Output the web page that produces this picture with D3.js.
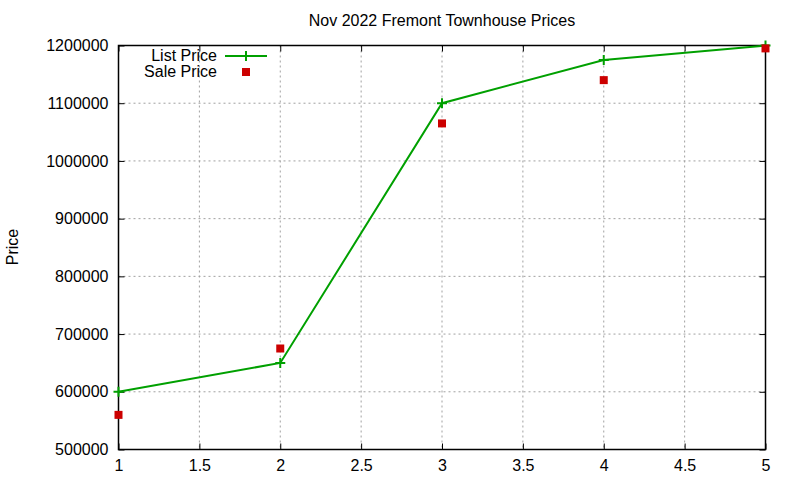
<!DOCTYPE html>
<html>
<head>
<meta charset="utf-8">
<script src="https://cdn.jsdelivr.net/npm/d3@7"></script>
<style>
  body { margin: 0; background: #fff; }
  svg { font-family: "Liberation Sans", Arial, sans-serif; font-size: 16px; }
  .grid line { stroke: #a0a0a0; stroke-width: 1; stroke-dasharray: 2,3; }
</style>
</head>
<body>
<svg width="800" height="480"></svg>
<script>
// chart data
const xValues = [1, 2, 3, 4, 5];
const listPrice = [600000, 650000, 1100000, 1175000, 1200000];
const salePrice = [560000, 675000, 1065000, 1140000, 1195000];
const xTicks = [1, 1.5, 2, 2.5, 3, 3.5, 4, 4.5, 5];
const yTicks = [500000, 600000, 700000, 800000, 900000, 1000000, 1100000, 1200000];

const svg = d3.select('svg');
const plotLeft = 118.5, plotRight = 765.5, plotTop = 45.5, plotBottom = 449.5;

const x = d3.scaleLinear().domain([1, 5]).range([plotLeft, plotRight]);
const y = d3.scaleLinear().domain([500000, 1200000]).range([plotBottom, plotTop]);

const green = '#00a000';
const red = '#cc0000';

// grid lines
const grid = svg.append('g').attr('class', 'grid');
grid.selectAll('.gx')
  .data(xTicks.slice(1, -1))
  .enter().append('line')
  .attr('x1', d => x(d)).attr('x2', d => x(d))
  .attr('y1', plotTop).attr('y2', plotBottom);
grid.selectAll('.gy')
  .data(yTicks.slice(1, -1))
  .enter().append('line')
  .attr('x1', plotLeft).attr('x2', plotRight)
  .attr('y1', d => y(d)).attr('y2', d => y(d));

// axes with inward ticks (mirrored on top/right)
const tickLen = 6;
svg.append('g')
  .attr('transform', `translate(0,${plotBottom})`)
  .call(d3.axisBottom(x).tickValues(xTicks).tickSizeInner(-tickLen).tickSizeOuter(0).tickPadding(10).tickFormat(d3.format('')))
  .call(g => g.select('.domain').remove())
  .call(g => g.selectAll('text').attr('font-size', 16).attr('fill', '#000'));
svg.append('g')
  .attr('transform', `translate(0,${plotTop})`)
  .call(d3.axisTop(x).tickValues(xTicks).tickSizeInner(-tickLen).tickSizeOuter(0).tickFormat(''))
  .call(g => g.select('.domain').remove());
svg.append('g')
  .attr('transform', `translate(${plotLeft},0)`)
  .call(d3.axisLeft(y).tickValues(yTicks).tickSizeInner(-tickLen).tickSizeOuter(0).tickPadding(10).tickFormat(d3.format('d')))
  .call(g => g.select('.domain').remove())
  .call(g => g.selectAll('text').attr('font-size', 16).attr('fill', '#000'));
svg.append('g')
  .attr('transform', `translate(${plotRight},0)`)
  .call(d3.axisRight(y).tickValues(yTicks).tickSizeInner(-tickLen).tickSizeOuter(0).tickFormat(''))
  .call(g => g.select('.domain').remove());
svg.selectAll('.tick text').attr('font-family', '"Liberation Sans", Arial, sans-serif');

// border
svg.append('rect')
  .attr('x', plotLeft).attr('y', plotTop)
  .attr('width', plotRight - plotLeft).attr('height', plotBottom - plotTop)
  .attr('fill', 'none').attr('stroke', '#000').attr('stroke-width', 1.5);

// list price line
const line = d3.line().x((d, i) => x(xValues[i])).y(d => y(d));
svg.append('path')
  .datum(listPrice)
  .attr('d', line)
  .attr('fill', 'none')
  .attr('stroke', green)
  .attr('stroke-width', 2);

const plusSize = 5;
svg.append('g').selectAll('path')
  .data(listPrice)
  .enter().append('path')
  .attr('d', (d, i) => {
    const cx = x(xValues[i]), cy = y(d);
    return `M${cx - plusSize},${cy}H${cx + plusSize}M${cx},${cy - plusSize}V${cy + plusSize}`;
  })
  .attr('stroke', green)
  .attr('stroke-width', 2);

// sale price points
const sq = 8;
svg.append('g').selectAll('rect')
  .data(salePrice)
  .enter().append('rect')
  .attr('x', (d, i) => x(xValues[i]) - sq / 2)
  .attr('y', d => y(d) - sq / 2)
  .attr('width', sq).attr('height', sq)
  .attr('fill', red);

// title and axis label
svg.append('text')
  .attr('x', (plotLeft + plotRight) / 2).attr('y', 26)
  .attr('text-anchor', 'middle')
  .text('Nov 2022 Fremont Townhouse Prices');

svg.append('text')
  .attr('transform', 'translate(18,247) rotate(-90)')
  .attr('text-anchor', 'middle')
  .text('Price');

// legend
const legend = svg.append('g');
legend.append('text').attr('x', 217).attr('y', 61).attr('text-anchor', 'end').text('List Price');
legend.append('line').attr('x1', 225).attr('x2', 267).attr('y1', 56).attr('y2', 56)
  .attr('stroke', green).attr('stroke-width', 2);
legend.append('path').attr('d', `M${246 - plusSize},56H${246 + plusSize}M246,${56 - plusSize}V${56 + plusSize}`)
  .attr('stroke', green).attr('stroke-width', 2);
legend.append('text').attr('x', 217).attr('y', 77).attr('text-anchor', 'end').text('Sale Price');
legend.append('rect').attr('x', 246 - sq / 2).attr('y', 72 - sq / 2).attr('width', sq).attr('height', sq)
  .attr('fill', red);
</script>
</body>
</html>
